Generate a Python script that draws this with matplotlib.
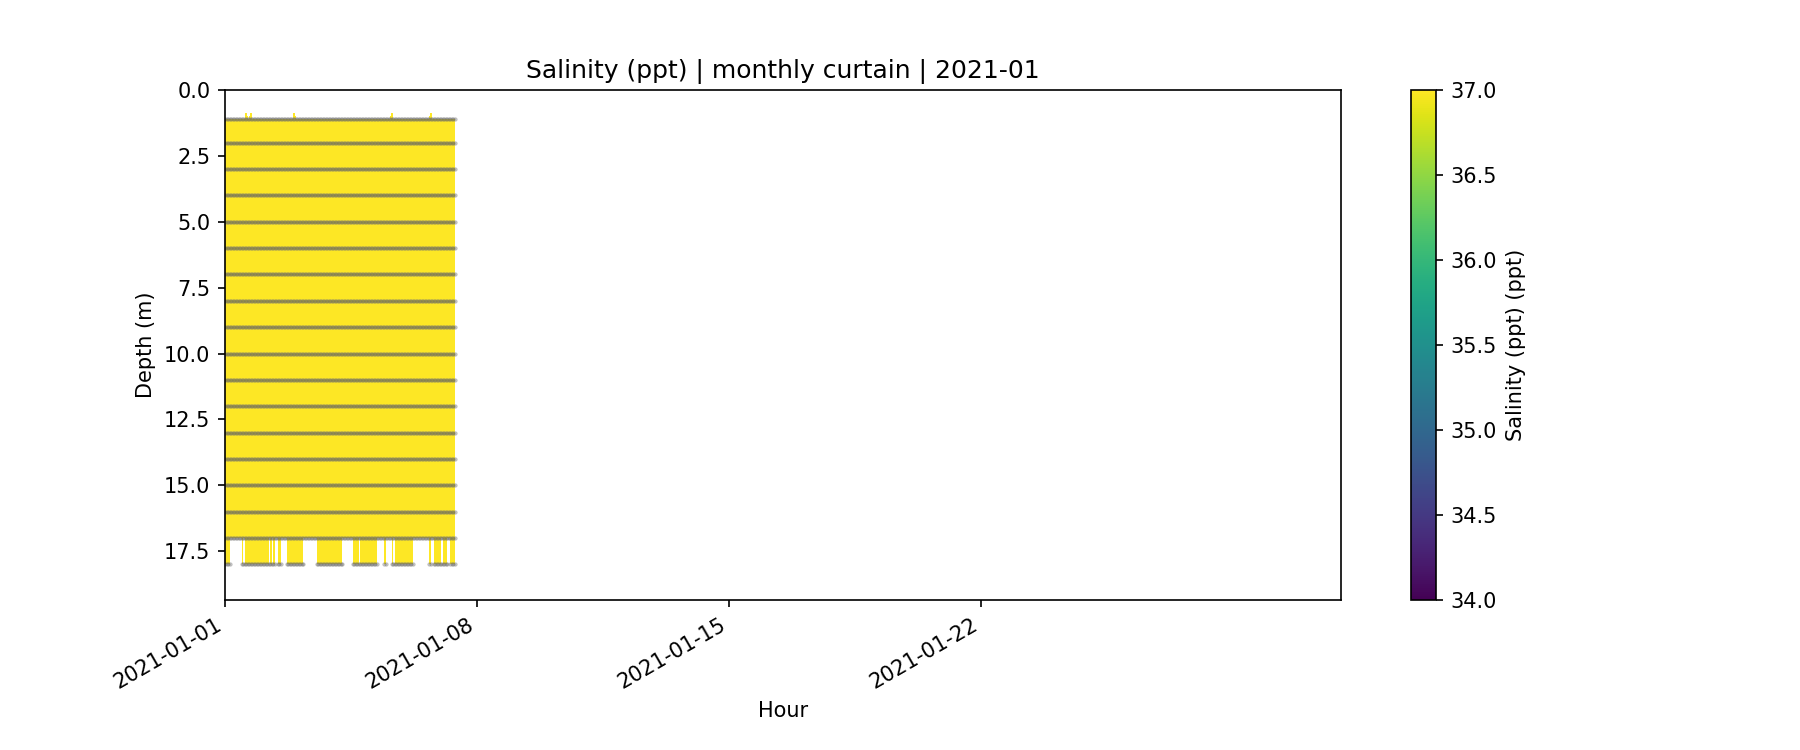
import matplotlib
matplotlib.use("Agg")
import matplotlib.pyplot as plt
import matplotlib.dates as mdates
import numpy as np
import pandas as pd

# hourly record of the string, 2021-01-01 00:00 onwards
start = "2021-01-01 00:00"
n_hours = 153
month_start = "2021-01-01"
month_end = "2021-02-01"

# sensor depths (m), top sensor sits a little below 1 m
sensor_depths = [1.1, 2, 3, 4, 5, 6, 7, 8, 9, 10, 11, 12, 13, 14, 15, 16, 17, 18]
# salinity per sensor (ppt), all above the 37 colour limit
salinity_by_sensor = [39.2, 39.2, 39.3, 39.3, 39.3, 39.3, 39.3, 39.4, 39.4,
                      39.4, 39.4, 39.4, 39.4, 39.4, 39.4, 39.4, 39.5, 39.5]

# hours where the top sensor read shallower (thin spikes at the surface)
top_dip_hours = [14, 17, 46, 111, 137]
top_dip_depth = 0.88

# hour ranges [start, end) where the 18 m sensor has data
deep_sensor_ranges = [(0, 3), (11, 12), (13, 29), (30, 31), (32, 33), (35, 37),
                      (41, 52), (61, 78), (85, 89), (90, 101), (106, 107),
                      (111, 112), (113, 125), (136, 137), (139, 144),
                      (145, 148), (150, 153)]

tick_dates = ["2021-01-01", "2021-01-08", "2021-01-15", "2021-01-22"]
vmin, vmax = 34.0, 37.0

# ---- build grid
times = pd.date_range(start, periods=n_hours + 1, freq="h")
xnum = mdates.date2num(times.to_pydatetime())
depths = np.array(sensor_depths, dtype=float)
n_lev = len(depths)

X = np.tile(xnum, (n_lev, 1))
Y = np.tile(depths[:, None], (1, n_hours + 1))
for h in top_dip_hours:
    Y[0, h] = top_dip_depth

deep_ok = np.zeros(n_hours + 1, dtype=bool)
for a, b in deep_sensor_ranges:
    deep_ok[a:b + 1] = True

sal = np.array(salinity_by_sensor, dtype=float)
C = np.tile(sal[:-1, None], (1, n_hours))
C = np.ma.masked_array(C, mask=np.zeros_like(C, dtype=bool))
cell_ok = np.zeros(n_hours, dtype=bool)
for a, b in deep_sensor_ranges:
    cell_ok[a:b] = True
C.mask[-1, :] = ~cell_ok

fig, ax = plt.subplots(figsize=(12, 5))
pcm = ax.pcolormesh(X, Y, C, cmap="viridis", vmin=vmin, vmax=vmax, shading="flat")

# sample points
for i, d in enumerate(depths):
    ok = deep_ok if i == n_lev - 1 else np.ones(n_hours + 1, dtype=bool)
    ax.scatter(times[ok], np.full(ok.sum(), d), s=3, c="0.35", alpha=0.35,
               linewidths=0.3, edgecolors="0.5")

ax.set_xlim(pd.Timestamp(month_start), pd.Timestamp(month_end))
ax.set_ylim(19.35, 0)
ax.set_xticks(pd.to_datetime(tick_dates))
ax.xaxis.set_major_formatter(mdates.DateFormatter("%Y-%m-%d"))
ax.set_title("Salinity (ppt) | monthly curtain | 2021-01")
ax.set_xlabel("Hour")
ax.set_ylabel("Depth (m)")
fig.colorbar(pcm, ax=ax, label="Salinity (ppt) (ppt)")
fig.autofmt_xdate()
fig.savefig("out.png", dpi=150)
